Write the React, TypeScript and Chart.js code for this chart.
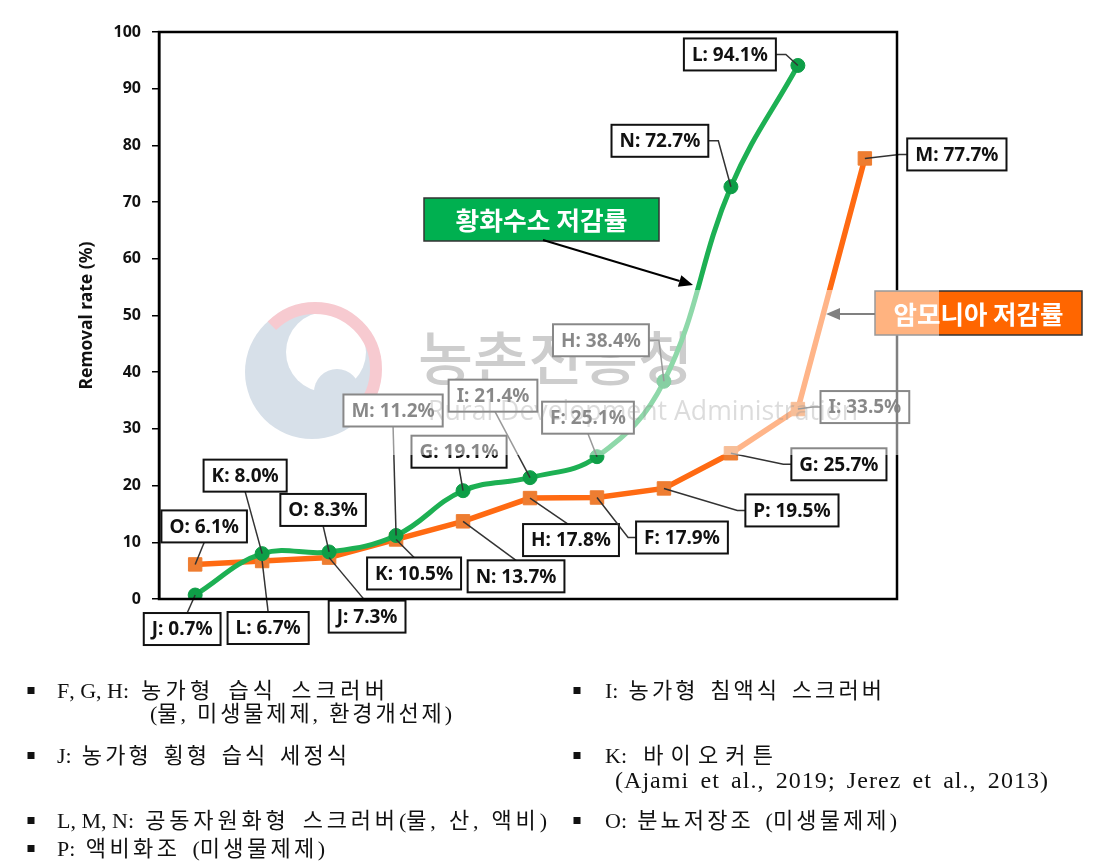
import { useEffect, useRef } from 'react';
import { Chart, registerables } from 'chart.js';

Chart.register(...registerables);

// ---------- data ----------
const positions = [1, 2, 3, 4, 5, 6, 7, 8, 9, 10, 11];
const h2sCodes = ['J', 'K', 'O', 'M', 'G', 'I', 'F', 'H', 'N', 'L'];
const h2sValues = [0.7, 8.0, 8.3, 11.2, 19.1, 21.4, 25.1, 38.4, 72.7, 94.1];
const nh3Codes = ['O', 'L', 'J', 'K', 'N', 'H', 'F', 'P', 'G', 'I', 'M'];
const nh3Values = [6.1, 6.7, 7.3, 10.5, 13.7, 17.8, 17.9, 19.5, 25.7, 33.5, 77.7];
const yTicks = [0, 10, 20, 30, 40, 50, 60, 70, 80, 90, 100];
const seriesNames = ['황화수소 저감률', '암모니아 저감률'];
const yTitle = 'Removal rate (%)';
const watermarkKo = '농촌진흥청';
const watermarkEn = 'Rural Development Administration';

// ---------- layout (annotation placement, px offsets from each point) ----------
type Side = 'top' | 'bottom' | 'left' | 'right';
const h2sLabelLayout: [number, number, Side, number][] = [
  [-13, 34, 'top', 5],
  [-17, -78, 'bottom', 0],
  [-6, -42, 'bottom', 0],
  [-3, -125, 'bottom', 0],
  [-4, -39, 'bottom', 0],
  [-37, -82, 'bottom', 2],
  [-9, -39, 'bottom', 0],
  [-63, -41, 'right', 0],
  [-71, -46, 'right', 0],
  [-68, -11, 'right', 0],
];
const nh3LabelLayout: [number, number, Side, number][] = [
  [9, -38, 'bottom', 0],
  [6, 67, 'top', 0],
  [38, 59, 'top', -2],
  [18, 34, 'top', 0],
  [53, 55, 'top', 0],
  [41, 42, 'top', -3],
  [85, 40, 'left', 0],
  [128, 22, 'left', 0],
  [108, 11, 'left', 0],
  [67, -2, 'left', 0],
  [92, -4, 'left', 0],
];

const notes: { text: string; x: number; y: number; w: number; size: number; bullet: number | null }[] = [
  { text: 'F, G, H: 농가형 습식 스크러버', x: 57, y: 692, w: 328, size: 22, bullet: 31 },
  { text: '(물, 미생물제제, 환경개선제)', x: 150, y: 715, w: 302, size: 22, bullet: null },
  { text: 'J: 농가형 횡형 습식 세정식', x: 57, y: 757, w: 290, size: 22, bullet: 31 },
  { text: 'L, M, N: 공동자원화형 스크러버(물, 산, 액비)', x: 57, y: 822, w: 490, size: 22, bullet: 31 },
  { text: 'P: 액비화조 (미생물제제)', x: 57, y: 850, w: 268, size: 22, bullet: 31 },
  { text: 'I: 농가형 침액식 스크러버', x: 605, y: 692, w: 277, size: 22, bullet: 577 },
  { text: 'K: 바이오커튼', x: 605, y: 757, w: 168, size: 22, bullet: 577 },
  { text: '(Ajami et al., 2019; Jerez et al., 2013)', x: 615, y: 782, w: 433, size: 24, bullet: null },
  { text: 'O: 분뇨저장조 (미생물제제)', x: 605, y: 822, w: 292, size: 22, bullet: 577 },
];

const GREEN_LINE = '#1DB053';
const GREEN_PT = '#0E9E47';
const ORANGE_LINE = '#FF6A12';
const ORANGE_PT = '#EE7D31';
const LABEL_FONT = 'bold 19px "Noto Sans", "Open Sans", sans-serif';

const isHangul = (c: string) => /[\uAC00-\uD7AF\u3130-\u318F]/.test(c);

function fitText(ctx: CanvasRenderingContext2D, text: string, x: number, y: number, w: number, align: 'left' | 'center') {
  const m = ctx.measureText(text).width;
  const s = w / m;
  ctx.save();
  ctx.translate(x, y);
  ctx.scale(s, 1);
  ctx.textAlign = align;
  ctx.fillText(text, 0, 0);
  ctx.restore();
}

function drawSpaced(ctx: CanvasRenderingContext2D, text: string, x: number, y: number, w: number) {
  const chars = Array.from(text);
  const widths = chars.map((c) => ctx.measureText(c).width);
  const base = widths.reduce((a, b) => a + b, 0);
  const firstH = chars.findIndex(isHangul);
  const weights = chars.map((c, i) => {
    if (firstH < 0) return c === ' ' ? 1 : 0.2;
    if (isHangul(c)) return 1;
    if (c === ' ') return i > firstH ? 2 : i === firstH - 1 ? 1.5 : 0;
    return 0;
  });
  const tot = weights.slice(0, -1).reduce((a, b) => a + b, 0) || 1;
  const ls = Math.max(0, (w - base) / tot);
  let cx = x;
  ctx.textAlign = 'left';
  chars.forEach((c, i) => {
    ctx.fillText(c, cx, y);
    cx += widths[i] + (i < chars.length - 1 ? weights[i] * ls : 0);
  });
}

function drawCallout(ctx: CanvasRenderingContext2D, px: number, py: number, text: string, lay: [number, number, Side, number]) {
  const [dx, dy, side, ax] = lay;
  ctx.font = LABEL_FONT;
  const tw = ctx.measureText(text).width;
  const w = tw + 16;
  const h = 32;
  const cx = px + dx;
  const cy = py + dy;
  const l = cx - w / 2;
  const t = cy - h / 2;
  ctx.save();
  ctx.strokeStyle = '#333';
  ctx.lineWidth = 1.5;
  ctx.beginPath();
  ctx.moveTo(px, py);
  if (side === 'top') ctx.lineTo(cx + ax, t);
  else if (side === 'bottom') ctx.lineTo(cx + ax, t + h);
  else if (side === 'left') {
    ctx.lineTo(l - 8, cy);
    ctx.lineTo(l, cy);
  } else {
    ctx.lineTo(l + w + 10, cy);
    ctx.lineTo(l + w, cy);
  }
  ctx.stroke();
  ctx.fillStyle = '#fff';
  ctx.fillRect(l, t, w, h);
  ctx.lineWidth = 2;
  ctx.strokeStyle = '#111';
  ctx.strokeRect(l, t, w, h);
  ctx.fillStyle = '#111';
  ctx.textAlign = 'center';
  ctx.textBaseline = 'middle';
  ctx.fillText(text, cx, cy + 1);
  ctx.restore();
}

function arrow(ctx: CanvasRenderingContext2D, x1: number, y1: number, x2: number, y2: number, color: string) {
  const ang = Math.atan2(y2 - y1, x2 - x1);
  const hl = 14;
  const hw = 6;
  ctx.save();
  ctx.strokeStyle = color;
  ctx.fillStyle = color;
  ctx.lineWidth = 2;
  ctx.beginPath();
  ctx.moveTo(x1, y1);
  ctx.lineTo(x2 - hl * Math.cos(ang), y2 - hl * Math.sin(ang));
  ctx.stroke();
  ctx.beginPath();
  ctx.moveTo(x2, y2);
  ctx.lineTo(x2 - hl * Math.cos(ang) + hw * Math.sin(ang), y2 - hl * Math.sin(ang) - hw * Math.cos(ang));
  ctx.lineTo(x2 - hl * Math.cos(ang) - hw * Math.sin(ang), y2 - hl * Math.sin(ang) + hw * Math.cos(ang));
  ctx.closePath();
  ctx.fill();
  ctx.restore();
}

function legendBox(ctx: CanvasRenderingContext2D, l: number, t: number, w: number, h: number, fill: string, text: string, tw: number) {
  ctx.save();
  ctx.fillStyle = fill;
  ctx.fillRect(l, t, w, h);
  ctx.strokeStyle = '#333';
  ctx.lineWidth = 1.5;
  ctx.strokeRect(l, t, w, h);
  ctx.fillStyle = '#fff';
  ctx.font = 'bold 25px "Noto Sans CJK KR", sans-serif';
  ctx.textBaseline = 'middle';
  fitText(ctx, text, l + w / 2, t + h / 2 + 1, tw, 'center');
  ctx.restore();
}

const decorPlugin = {
  id: 'decor',
  beforeDatasetsDraw(chart: any) {
    const ctx: CanvasRenderingContext2D = chart.ctx;
    // watermark logo (drawn before fading band)
    ctx.save();
    ctx.fillStyle = '#AFC0D2';
    ctx.beginPath();
    ctx.arc(312, 372, 67, 0, Math.PI * 2);
    ctx.fill();
    ctx.fillStyle = '#fff';
    ctx.beginPath();
    ctx.arc(326, 352, 40, 0, Math.PI * 2);
    ctx.fill();
    ctx.fillStyle = '#AFC0D2';
    ctx.beginPath();
    ctx.arc(337, 392, 23, 0, Math.PI * 2);
    ctx.fill();
    ctx.strokeStyle = '#EE95A1';
    ctx.lineWidth = 12;
    ctx.beginPath();
    ctx.arc(315, 369, 61, -Math.PI * 0.75, Math.PI * 0.28);
    ctx.stroke();
    ctx.restore();
    // korean watermark text
    ctx.save();
    ctx.fillStyle = '#9A9A9A';
    ctx.textBaseline = 'alphabetic';
    ctx.font = '500 58px "Noto Sans CJK KR", sans-serif';
    fitText(ctx, watermarkKo, 418, 380, 275, 'left');
    ctx.restore();
  },
  afterDraw(chart: any) {
    const ctx: CanvasRenderingContext2D = chart.ctx;
    const area = chart.chartArea;
    // callouts
    const m0 = chart.getDatasetMeta(0);
    m0.data.forEach((el: any, i: number) => {
      drawCallout(ctx, el.x, el.y, `${h2sCodes[i]}: ${h2sValues[i].toFixed(1)}%`, h2sLabelLayout[i]);
    });
    const m1 = chart.getDatasetMeta(1);
    m1.data.forEach((el: any, i: number) => {
      drawCallout(ctx, el.x, el.y, `${nh3Codes[i]}: ${nh3Values[i].toFixed(1)}%`, nh3LabelLayout[i]);
    });
    // plot frame
    ctx.save();
    ctx.strokeStyle = '#000';
    ctx.lineWidth = 2.5;
    ctx.strokeRect(area.left, area.top, area.right - area.left, area.bottom - area.top);
    ctx.restore();
    // series legend boxes with arrows
    legendBox(ctx, 424, 198, 235, 43, '#00B050', seriesNames[0], 172);
    arrow(ctx, 543, 240, 693, 285, '#000');
    legendBox(ctx, 875, 291, 207, 44, '#FF6600', seriesNames[1], 170);
    arrow(ctx, 875, 314, 826, 314, '#000');
    // watermark fade band
    ctx.save();
    ctx.fillStyle = 'rgba(255,255,255,0.5)';
    ctx.fillRect(172, 290, 767, 165);
    ctx.restore();
    // english watermark text
    ctx.save();
    ctx.fillStyle = 'rgba(150,150,150,0.33)';
    ctx.textBaseline = 'alphabetic';
    ctx.font = '28px "Open Sans", sans-serif';
    fitText(ctx, watermarkEn, 428, 420, 430, 'left');
    ctx.restore();
    // footnotes
    ctx.save();
    ctx.fillStyle = '#111';
    ctx.textBaseline = 'middle';
    notes.forEach((n) => {
      ctx.font = `${n.size}px "Liberation Serif", "Noto Sans CJK KR", serif`;
      if (n.bullet !== null) ctx.fillRect(n.bullet - 3.5, n.y - 5, 7, 7);
      drawSpaced(ctx, n.text, n.x, n.y, n.w);
    });
    ctx.restore();
  },
};

export default function App() {
  const ref = useRef<HTMLCanvasElement | null>(null);
  useEffect(() => {
    if (!ref.current) return;
    const chart = new Chart(ref.current, {
      type: 'line',
      data: {
        datasets: [
          {
            label: seriesNames[0],
            data: h2sValues.map((v, i) => ({ x: positions[i], y: v })),
            borderColor: GREEN_LINE,
            backgroundColor: GREEN_PT,
            borderWidth: 5,
            tension: 0.4,
            pointStyle: 'circle',
            pointRadius: 7,
            pointBackgroundColor: GREEN_PT,
            pointBorderColor: GREEN_PT,
            pointBorderWidth: 1,
          },
          {
            label: seriesNames[1],
            data: nh3Values.map((v, i) => ({ x: positions[i], y: v })),
            borderColor: ORANGE_LINE,
            backgroundColor: ORANGE_PT,
            borderWidth: 5.5,
            tension: 0,
            pointStyle: 'rect',
            pointRadius: 9.5,
            pointBackgroundColor: ORANGE_PT,
            pointBorderColor: ORANGE_PT,
            pointBorderWidth: 1,
          },
        ],
      },
      options: {
        animation: false,
        responsive: false,
        devicePixelRatio: 1,
        layout: { padding: { left: 0, right: 214, top: 32, bottom: 265 } },
        plugins: { legend: { display: false }, tooltip: { enabled: false } },
        scales: {
          x: {
            type: 'linear',
            min: 0.46,
            max: 11.48,
            display: false,
          },
          y: {
            min: 0,
            max: 100,
            afterBuildTicks: (scale: any) => {
              scale.ticks = yTicks.map((v) => ({ value: v }));
            },
            afterFit: (scale: any) => {
              scale.width = 159;
            },
            grid: { display: true, drawOnChartArea: false, drawTicks: true, tickLength: 7, color: '#000', lineWidth: 1.5 },
            border: { display: true, color: '#000', width: 2.5 },
            ticks: {
              padding: 11,
              color: '#111',
              font: { family: '"Noto Sans", sans-serif', weight: 'bold', size: 16 },
            },
            title: {
              display: true,
              text: yTitle,
              color: '#111',
              font: { family: '"Noto Sans", sans-serif', weight: 'bold', size: 17.5 },
              padding: { top: 77, bottom: 0 },
            },
          },
        },
      },
      plugins: [decorPlugin],
    } as any);
    return () => chart.destroy();
  }, []);
  return (
    <div style={{ position: 'absolute', left: 0, top: 0, width: 1111, height: 864, background: '#fff' }}>
      <canvas ref={ref} width={1111} height={864} style={{ width: 1111, height: 864, display: 'block' }} />
    </div>
  );
}
